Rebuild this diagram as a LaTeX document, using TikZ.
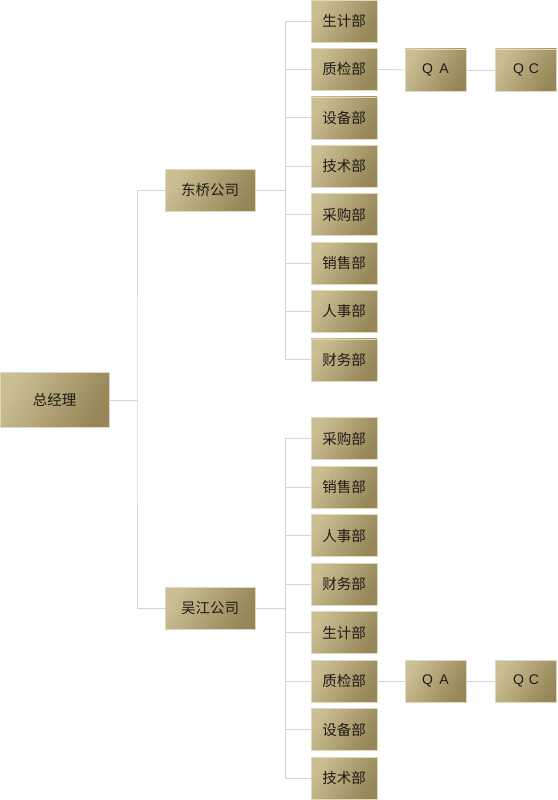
\documentclass[tikz,border=0pt]{standalone}
\usepackage{fontspec}
\newfontfamily\cjk{Noto Sans CJK SC}
\newfontfamily\lat{Liberation Sans}
\usetikzlibrary{positioning, calc}

\definecolor{goldA}{RGB}{202,190,146}
\definecolor{goldB}{RGB}{150,134,88}
\definecolor{linegray}{RGB}{212,212,212}
\definecolor{txt}{RGB}{30,28,22}

\tikzset{
  box/.style={draw=goldA!60!white, line width=0.6pt, left color=goldA, right color=goldB,
    shading angle=60, text=txt, font=\cjk\fontsize{14.5}{16}\selectfont,
    inner sep=0pt, minimum height=42pt},
  dept/.style={box, minimum width=66pt},
  comp/.style={box, minimum width=90pt},
  qbox/.style={box, minimum width=61pt, font=\lat\fontsize{14}{16}\selectfont},
  conn/.style={draw=linegray, line width=0.8pt}
}

\begin{document}
\begin{tikzpicture}[x=1pt, y=-1pt]
    \useasboundingbox (0,0) rectangle (557,800);

    % Top of the tree
    \node[box, minimum width=109pt, minimum height=55pt] (gm) at (54.5,400) {总经理};
    \coordinate (trunk) at (137,400);

    % Companies
    \node[comp] (db) at (210,190) {东桥公司};
    \node[comp] (wj) at (210,608) {吴江公司};
    \coordinate (brA) at (285,190);
    \coordinate (brB) at (285,608);

    % Departments of the first company
    \foreach \name [count=\i] in {生计部, 质检部, 设备部, 技术部, 采购部, 销售部, 人事部, 财务部} {
      \node[dept] (a\i) at (344, {21+48.4*(\i-1)}) {\name};
      \draw[conn] (brA) |- (a\i.west);
    }
    % Departments of the second company
    \foreach \name [count=\i] in {采购部, 销售部, 人事部, 财务部, 生计部, 质检部, 设备部, 技术部} {
      \node[dept] (b\i) at (344, {438.5+48.5*(\i-1)}) {\name};
      \draw[conn] (brB) |- (b\i.west);
    }

    % QA / QC
    \node[qbox] (qaA) at (435.5,70) {Q\hspace{0.45em}A};
    \node[qbox] (qcA) at (526,70) {Q\hspace{0.35em}C};
    \node[qbox] (qaB) at (435.5,681) {Q\hspace{0.45em}A};
    \node[qbox] (qcB) at (526,681) {Q\hspace{0.35em}C};

    % Connectors
    \draw[conn] (gm.east) -- (trunk);
    \draw[conn] (db.west) -| (trunk) |- (wj.west);
    \draw[conn] (db.east) -- (brA);
    \draw[conn] (wj.east) -- (brB);
    \draw[conn] (a2.east) -- (qaA.west);
    \draw[conn] (qaA.east) -- (qcA.west);
    \draw[conn] (b6.east) -- (qaB.west);
    \draw[conn] (qaB.east) -- (qcB.west);

\end{tikzpicture}
\end{document}
